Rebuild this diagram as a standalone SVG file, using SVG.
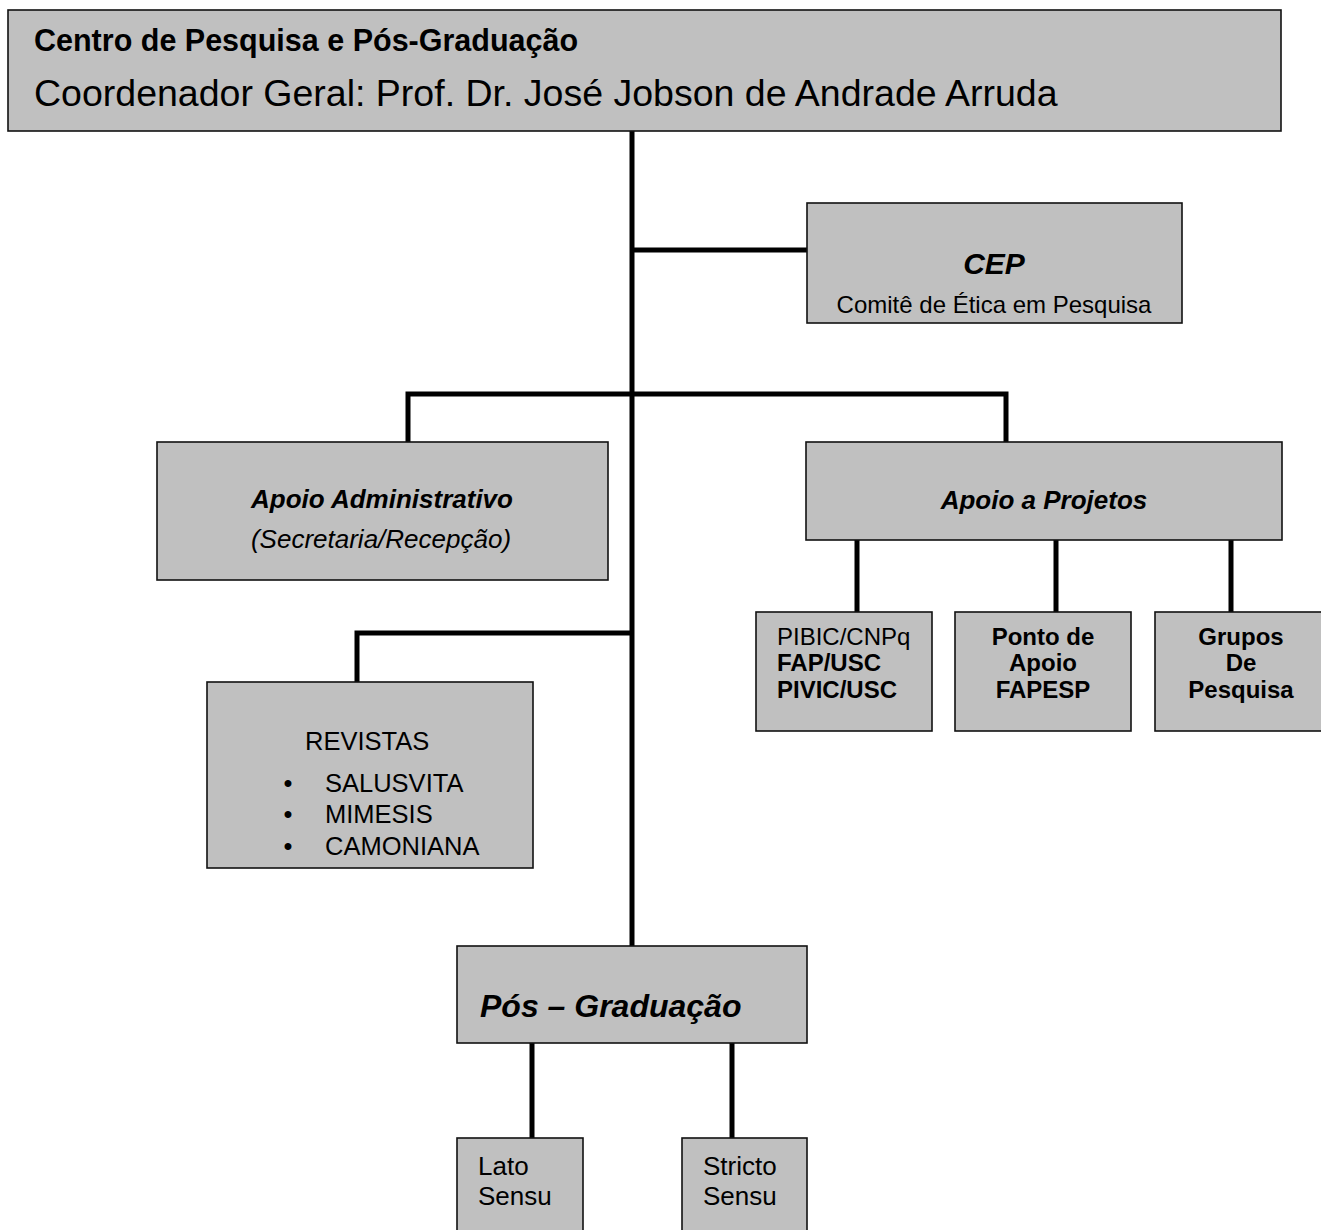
<svg xmlns="http://www.w3.org/2000/svg" width="1321" height="1230" viewBox="0 0 1321 1230">
<style>
.box{fill:#c0c0c0;stroke:#111;stroke-width:1.6}
.con{fill:none;stroke:#000;stroke-width:5;stroke-linejoin:miter;stroke-linecap:butt}
text{font-family:"Liberation Sans",Arial,Helvetica,sans-serif;fill:#000}
.b{font-weight:bold}
.i{font-style:italic}
.bi{font-weight:bold;font-style:italic}
.m{text-anchor:middle}
</style>
<defs>
<clipPath id="cepClip"><rect x="807" y="203" width="375" height="115"/></clipPath>
</defs>
<rect width="1321" height="1230" fill="#fff"/>
<g id="connectors">
<path class="con" d="M632,131 V946"/>
<path class="con" d="M632,250 H807"/>
<path class="con" d="M408,442 V394 H1006 V442"/>
<path class="con" d="M857,540 V612 M1056,540 V612 M1231,540 V612"/>
<path class="con" d="M632,633 H357 V682"/>
<path class="con" d="M532,1043 V1138 M732,1043 V1138"/>
</g>
<g id="centro">
<rect class="box" x="8" y="10" width="1273" height="121"/>
<text class="b" x="34" y="51" font-size="30.5">Centro de Pesquisa e Pós-Graduação</text>
<text x="34" y="106" font-size="37.5">Coordenador Geral: Prof. Dr. José Jobson de Andrade Arruda</text>
</g>
<g id="cep">
<rect class="box" x="807" y="203" width="375" height="120"/>
<text class="bi m" x="994" y="274" font-size="30">CEP</text>
<g clip-path="url(#cepClip)"><text class="m" x="994" y="313" font-size="24">Comitê de Ética em Pesquisa</text></g>
</g>
<g id="apoio-administrativo">
<rect class="box" x="157" y="442" width="451" height="138"/>
<text class="bi m" x="382" y="508" font-size="26">Apoio Administrativo</text>
<text class="i m" x="381" y="548" font-size="26">(Secretaria/Recepção)</text>
</g>
<g id="apoio-projetos">
<rect class="box" x="806" y="442" width="476" height="98"/>
<text class="bi m" x="1044" y="509" font-size="26">Apoio a Projetos</text>
</g>
<g id="pibic">
<rect class="box" x="756" y="612" width="176" height="119"/>
<text x="777" y="645" font-size="24">PIBIC/CNPq</text>
<text class="b" x="777" y="671" font-size="24">FAP/USC</text>
<text class="b" x="777" y="698" font-size="24">PIVIC/USC</text>
</g>
<g id="ponto-apoio">
<rect class="box" x="955" y="612" width="176" height="119"/>
<text class="b m" x="1043" y="645" font-size="24">Ponto de</text>
<text class="b m" x="1043" y="671" font-size="24">Apoio</text>
<text class="b m" x="1043" y="698" font-size="24">FAPESP</text>
</g>
<g id="grupos">
<rect class="box" x="1155" y="612" width="176" height="119"/>
<text class="b m" x="1241" y="645" font-size="24">Grupos</text>
<text class="b m" x="1241" y="671" font-size="24">De</text>
<text class="b m" x="1241" y="698" font-size="24">Pesquisa</text>
</g>
<g id="revistas">
<rect class="box" x="207" y="682" width="326" height="186"/>
<text x="305" y="750" font-size="25.5">REVISTAS</text>
<text class="m" x="288" y="792" font-size="25.5">•</text>
<text x="325" y="792" font-size="25.5">SALUSVITA</text>
<text class="m" x="288" y="823" font-size="25.5">•</text>
<text x="325" y="823" font-size="25.5">MIMESIS</text>
<text class="m" x="288" y="855" font-size="25.5">•</text>
<text x="325" y="855" font-size="25.5">CAMONIANA</text>
</g>
<g id="pos-graduacao">
<rect class="box" x="457" y="946" width="350" height="97"/>
<text class="bi" x="480" y="1017" font-size="32">Pós – Graduação</text>
</g>
<g id="lato-sensu">
<rect class="box" x="457" y="1138" width="126" height="110"/>
<text x="478" y="1175" font-size="26">Lato</text>
<text x="478" y="1205" font-size="26">Sensu</text>
</g>
<g id="stricto-sensu">
<rect class="box" x="682" y="1138" width="125" height="110"/>
<text x="703" y="1175" font-size="26">Stricto</text>
<text x="703" y="1205" font-size="26">Sensu</text>
</g>
</svg>
